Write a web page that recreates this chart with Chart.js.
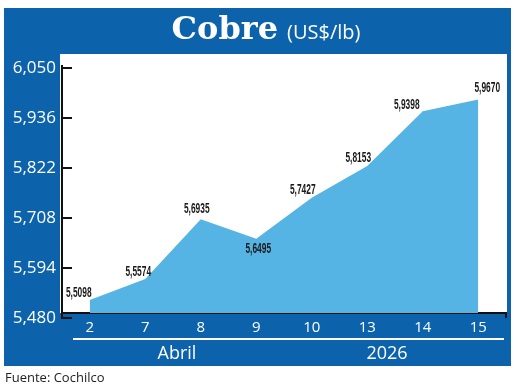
<!DOCTYPE html>
<html>
<head>
<meta charset="utf-8">
<script src="https://cdn.jsdelivr.net/npm/chart.js@4.4.1/dist/chart.umd.min.js"></script>
<style>
    body { margin: 0; background: #fff; width: 520px; height: 388px; position: relative; overflow: hidden; }
    #marco { position: absolute; left: 4px; top: 8px; width: 507px; height: 358px; background: #0c63ab; }
    #grafico { position: absolute; left: 0; top: 0; }
    .txt { position: absolute; color: #fff; white-space: nowrap; }
    #titulo { left: 0; width: 520px; top: 9px; text-align: center; padding-left: 12px; box-sizing: border-box; }
    #titulo b { font-family: "DejaVu Serif", serif; font-size: 32px; font-weight: bold; }
    #titulo span { font-family: "Open Sans", sans-serif; font-size: 20px; margin-left: 9px; }
    #linea { position: absolute; left: 73px; top: 338px; width: 431px; height: 2px; background: #fff; }
    .mes { font-family: "Open Sans", sans-serif; font-size: 18px; top: 340px; transform: translateX(-50%); }
    #fuente { position: absolute; left: 5px; top: 368px; font-family: "Open Sans", sans-serif; font-size: 13px; color: #222; }
</style>
</head>
<body>
<div id="marco"></div>
<canvas id="grafico" width="520" height="388"></canvas>
<div class="txt" id="titulo"><b>Cobre</b><span>(US$/lb)</span></div>
<div id="linea"></div>
<div class="txt mes" style="left:177px">Abril</div>
<div class="txt mes" style="left:387px">2026</div>
<div id="fuente">Fuente: Cochilco</div>

<script>
const dias = ['2', '7', '8', '9', '10', '13', '14', '15'];
const precios = [5.5098, 5.5574, 5.6935, 5.6495, 5.7427, 5.8153, 5.9398, 5.9670];
const ticksY = [5.480, 5.594, 5.708, 5.822, 5.936, 6.050];

// donde va cada etiqueta respecto a su punto (dx, dy)
const posEtiquetas = [[-11, -7], [-7, -7], [-4, -10], [2, 10], [-9, -8], [-9, -8], [-16, -6], [9, -11]];

function formatoComa(v, dec) {
    return v.toFixed(dec).replace('.', ',');
}

const fondoBlanco = {
    id: 'fondoBlanco',
    beforeDraw(chart) {
        const a = chart.chartArea;
        const ctx = chart.ctx;
        ctx.save();
        ctx.fillStyle = '#ffffff';
        ctx.fillRect(a.left - 2, a.top - 9, a.right - a.left + 3, a.bottom - a.top + 9);
        ctx.restore();
    }
};

const marcasY = {
    id: 'marcasY',
    afterDraw(chart) {
        const y = chart.scales.y;
        const ctx = chart.ctx;
        ctx.save();
        ctx.strokeStyle = '#111';
        ctx.lineWidth = 2;
        ticksY.forEach(v => {
            const py = y.getPixelForValue(v) + 5;
            ctx.beginPath();
            ctx.moveTo(y.right - 1, py);
            ctx.lineTo(y.right + 10, py);
            ctx.stroke();
        });
        // linea vertical hasta la ultima marca
        ctx.beginPath();
        ctx.moveTo(y.right, chart.chartArea.top + 2);
        ctx.lineTo(y.right, y.getPixelForValue(ticksY[0]) + 6);
        ctx.stroke();
        // remate a la derecha del eje x
        const a = chart.chartArea;
        ctx.beginPath();
        ctx.moveTo(a.right, a.bottom);
        ctx.lineTo(a.right, a.bottom + 5);
        ctx.stroke();
        ctx.restore();
    }
};

const etiquetas = {
    id: 'etiquetas',
    afterDatasetsDraw(chart) {
        const ctx = chart.ctx;
        const meta = chart.getDatasetMeta(0);
        meta.data.forEach((p, i) => {
            const d = posEtiquetas[i];
            ctx.save();
            ctx.translate(p.x + d[0], p.y + d[1]);
            ctx.scale(0.6, 1);
            ctx.font = 'bold 14px "Liberation Sans", Arial, sans-serif';
            ctx.fillStyle = '#1a1a1a';
            ctx.textAlign = 'center';
            ctx.textBaseline = 'middle';
            ctx.fillText(formatoComa(precios[i], 4), 0, 0);
            ctx.restore();
        });
    }
};

const ctx = document.getElementById('grafico').getContext('2d');
new Chart(ctx, {
    type: 'line',
    data: {
        labels: dias,
        datasets: [{
            data: precios,
            fill: 'start',
            backgroundColor: '#55b4e4',
            borderWidth: 0,
            pointRadius: 0,
            tension: 0
        }]
    },
    options: {
        responsive: false,
        animation: false,
        layout: { padding: { left: 4, right: 14, top: 63, bottom: 0 } },
        plugins: {
            legend: { display: false },
            tooltip: { enabled: false }
        },
        scales: {
            x: {
                offset: true,
                grid: { display: false, drawTicks: false },
                border: { display: true, color: '#111', width: 2 },
                ticks: {
                    color: '#fff',
                    padding: 6,
                    font: { family: '"Open Sans", sans-serif', size: 15 }
                },
                afterFit(scale) { scale.height = 75; }
            },
            y: {
                min: 5.48,
                max: 6.05,
                grid: { display: false, drawTicks: false },
                border: { display: false },
                afterBuildTicks(scale) { scale.ticks = ticksY.map(v => ({ value: v })); },
                ticks: {
                    color: '#fff',
                    padding: 6,
                    labelOffset: 5,
                    font: { family: '"Open Sans", sans-serif', size: 17 },
                    callback: v => formatoComa(v, 3)
                },
                afterFit(scale) { scale.width = 58; }
            }
        }
    },
    plugins: [fondoBlanco, marcasY, etiquetas]
});
</script>
</body>
</html>
